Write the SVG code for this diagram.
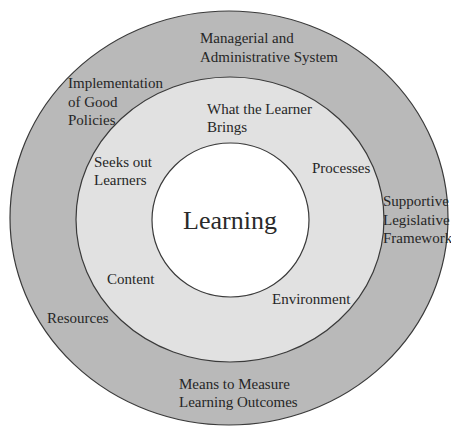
<svg xmlns="http://www.w3.org/2000/svg" width="451" height="426" viewBox="0 0 451 426">
  <style>
    .ring { stroke: #3a3a3a; stroke-width: 1.2; }
    .lbl { font-family: "Liberation Serif", "Times New Roman", serif; font-size: 15px; fill: #262626; }
    .core { font-family: "Liberation Serif", "Times New Roman", serif; font-size: 26px; fill: #2a2a2a; }
  </style>
  <rect width="451" height="426" fill="#ffffff"/>

  <!-- outer ring: the system around learning -->
  <g id="outer-ring">
    <ellipse class="ring" cx="229" cy="218" rx="219" ry="207" fill="#b9b9b9"/>
    <text class="lbl" x="200" y="43">Managerial and</text>
    <text class="lbl" x="200" y="62">Administrative System</text>
    <text class="lbl" x="68" y="88">Implementation</text>
    <text class="lbl" x="68" y="107">of Good</text>
    <text class="lbl" x="68" y="125">Policies</text>
    <text class="lbl" x="383" y="206">Supportive</text>
    <text class="lbl" x="383" y="225">Legislative</text>
    <text class="lbl" x="383" y="243">Framework</text>
    <text class="lbl" x="47" y="323">Resources</text>
    <text class="lbl" x="179" y="389">Means to Measure</text>
    <text class="lbl" x="179" y="407">Learning Outcomes</text>
  </g>

  <!-- middle ring: conditions of learning -->
  <g id="middle-ring">
    <ellipse class="ring" cx="230" cy="219.5" rx="154" ry="142.5" fill="#e1e1e1"/>
    <text class="lbl" x="207" y="114">What the Learner</text>
    <text class="lbl" x="207" y="132">Brings</text>
    <text class="lbl" x="94" y="167">Seeks out</text>
    <text class="lbl" x="94" y="185">Learners</text>
    <text class="lbl" x="312" y="173">Processes</text>
    <text class="lbl" x="107" y="284">Content</text>
    <text class="lbl" x="272" y="304">Environment</text>
  </g>

  <!-- centre -->
  <g id="learning">
    <ellipse class="ring" cx="230.5" cy="220" rx="78.5" ry="77" fill="#ffffff" stroke-width="1"/>
    <text class="core" x="230" y="229" text-anchor="middle">Learning</text>
  </g>
</svg>
